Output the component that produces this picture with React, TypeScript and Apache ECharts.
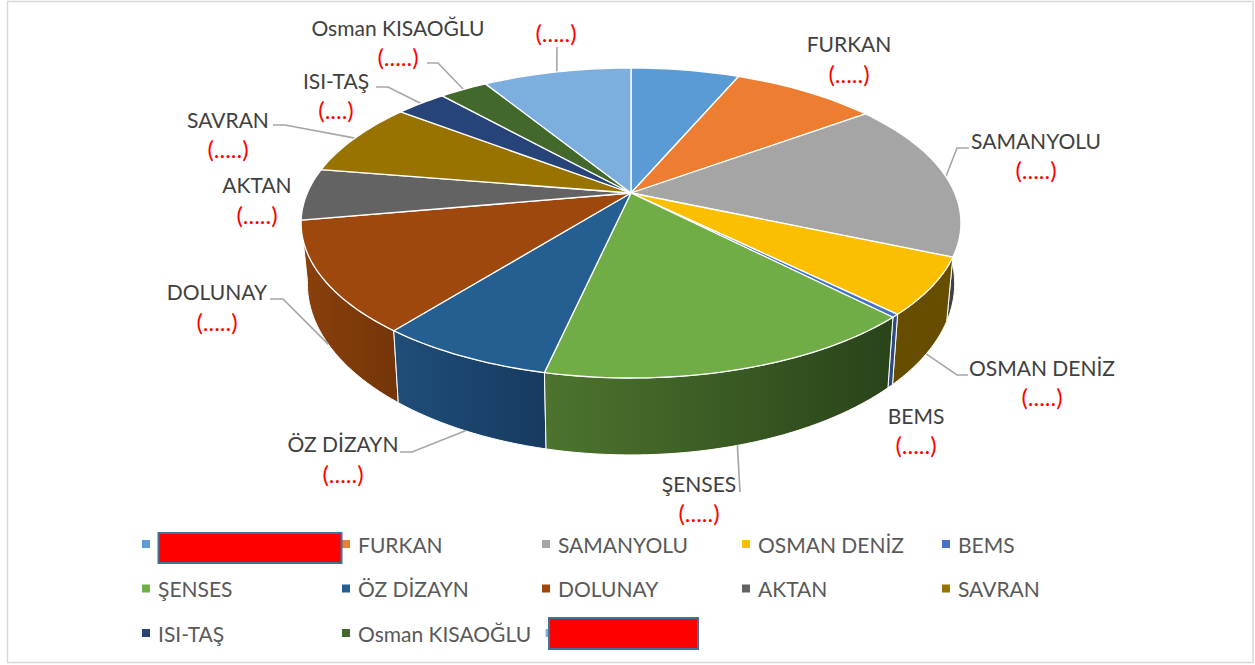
import React, { useEffect, useRef } from "react";
import * as echarts from "echarts";

const sliceNames = ["\u00a0", "FURKAN", "SAMANYOLU", "OSMAN DENİZ", "BEMS", "ŞENSES", "ÖZ DİZAYN", "DOLUNAY", "AKTAN", "SAVRAN", "ISI-TAŞ", "Osman KISAOĞLU", "\u00a0\u00a0"];
const sliceValues = [6.4, 8.55, 16.55, 5.9, 0.33, 15.75, 7.2, 11.5, 5.4, 7.8, 3.0, 2.85, 8.77];
const valueLabels = ["", "(.....)", "(.....)", "(.....)", "(.....)", "(.....)", "(.....)", "(.....)", "(.....)", "(.....)", "(....)", "(.....)", "(.....)"];

const faceColors = ["#5b9bd5", "#ed7d31", "#a5a5a5", "#fbbf00", "#4472c4", "#70ad47", "#255e91", "#9e480e", "#636363", "#997300", "#264478", "#43682b", "#7cafdd"];
const wallLeft = ["#37618a", "#8f4b1d", "#474747", "#664d00", "#2c4a80", "#4d742e", "#1f4e79", "#8a400c", "#3c3c3c", "#5c4500", "#172a4a", "#28401a", "#4b6a87"];
const wallRight = ["#37618a", "#8f4b1d", "#404040", "#664d00", "#2c4a80", "#29431a", "#173a60", "#743508", "#3c3c3c", "#5c4500", "#172a4a", "#28401a", "#4b6a87"];

// Perspective of the disc
const CX = 631, CY = 193, K = 149.2, P = 0.1935, R = 323.7;
const rad = (d: number) => (d * Math.PI) / 180;
const topDelta = (a: number) => {
  const u = Math.sin(rad(a)), v = -Math.cos(rad(a)), w = 1 - P * v;
  return [(R * u) / w, (K * v) / w];
};
const topPt = (a: number) => { const [dx, dy] = topDelta(a); return [CX + dx, CY + dy]; };
const botPt = (a: number) => { const [dx, dy] = topDelta(a); return [CX + 0.981 * dx, CY + dy + 57.5 + 0.105 * dy]; };

const total = sliceValues.reduce((s, v) => s + v, 0);
const starts: number[] = [];
sliceValues.reduce((acc, v, i) => { starts[i] = acc; return acc + v; }, 0);
const angleOf = (v: number) => (v / total) * 360;

// label layout: centre x, name y, value y, leader polyline start + elbow
type L = { x: number; ny: number; vy: number; lead?: number[][] };
const labelLayout: L[] = [
  { x: 0, ny: 0, vy: 0 },
  { x: 849, ny: 43, vy: 73 },
  { x: 1036, ny: 140, vy: 169, lead: [[969, 148], [957, 148]] },
  { x: 1042, ny: 367, vy: 396, lead: [[968, 375], [957, 375]] },
  { x: 916, ny: 415, vy: 444 },
  { x: 699, ny: 483, vy: 512, lead: [[740, 492]] },
  { x: 343, ny: 443, vy: 473, lead: [[400, 452], [412, 452]] },
  { x: 217, ny: 291, vy: 321, lead: [[270, 299], [283, 299]] },
  { x: 257, ny: 184, vy: 214 },
  { x: 228, ny: 119, vy: 148, lead: [[273, 125], [285, 125]] },
  { x: 336, ny: 80, vy: 109, lead: [[376, 87], [388, 87]] },
  { x: 398, ny: 27, vy: 56, lead: [[427, 63], [438, 63]] },
  { x: 556, ny: 0, vy: 32, lead: [[557, 47]] },
];
const FONT = "Lato, 'Open Sans', sans-serif";
const FS = 21;
const VFS = 24;

function renderSlice(i: number) {
  return () => {
    const a0 = angleOf(starts[i]);
    const a1 = angleOf(starts[i] + sliceValues[i]);
    const n = Math.max(2, Math.ceil((a1 - a0) / 1.5));
    const arc: number[] = [];
    for (let k = 0; k <= n; k++) arc.push(a0 + ((a1 - a0) * k) / n);
    const mid = (a0 + a1) / 2;
    const front = -Math.cos(rad(mid));
    const wallPts = [...arc.map(topPt), ...arc.slice().reverse().map(botPt)];
    const children: any[] = [
      {
        type: "polygon",
        z2: 100 + Math.round(front * 50),
        shape: { points: wallPts },
        style: {
          fill: new echarts.graphic.LinearGradient(0, 0, 1, 0, [
            { offset: 0, color: wallLeft[i] },
            { offset: 1, color: wallRight[i] },
          ]),
          stroke: "#fff",
          lineWidth: 1,
          lineJoin: "round",
        },
      },
      {
        type: "polygon",
        z2: 300,
        shape: { points: [[CX, CY], ...arc.map(topPt)] },
        style: { fill: faceColors[i], stroke: "#fff", lineWidth: 1.3, lineJoin: "round" },
      },
    ];
    const l = labelLayout[i];
    if (l.lead) {
      const isFront = front > 0.1;
      const end = isFront ? botPt(mid) : topPt(mid);
      children.push({
        type: "polyline",
        z2: 250,
        shape: { points: [...l.lead, end] },
        style: { stroke: "#a6a6a6", lineWidth: 1.6, fill: "none" },
      });
    }
    if (i > 0 && l.ny) {
      children.push({
        type: "text",
        z2: 400,
        style: { text: sliceNames[i], x: l.x, y: l.ny, align: "center", verticalAlign: "middle", fill: "#404040", font: `${FS}px ${FONT}` },
      });
    }
    if (valueLabels[i]) {
      children.push({
        type: "text",
        z2: 400,
        style: { text: valueLabels[i], x: l.x, y: l.vy, align: "center", verticalAlign: "middle", fill: "#ff0000", font: `${VFS}px ${FONT}` },
      });
    }
    return { type: "group", children };
  };
}

export default function App() {
  const ref = useRef<HTMLDivElement>(null);
  useEffect(() => {
    document.body.style.margin = "0";
    document.body.style.overflow = "hidden";
    const chart = echarts.init(ref.current!, undefined, { renderer: "svg" });
    chart.setOption({
      animation: false,
      backgroundColor: "#fff",
      legend: {
        left: 142,
        top: 529,
        padding: 0,
        width: 1010,
        icon: "rect",
        itemWidth: 8,
        itemHeight: 8,
        itemGap: 14.5,
        selectedMode: false,
        textStyle: {
          width: 169.5,
          height: 30,
          lineHeight: 30,
          padding: [0, 0, 0, 3],
          fontSize: FS,
          fontFamily: FONT,
          color: "#595959",
        },
      },
      series: sliceNames.map((name, i) => ({
        type: "custom",
        name,
        coordinateSystem: "none",
        silent: true,
        itemStyle: { color: faceColors[i] },
        data: [[sliceValues[i]]],
        renderItem: renderSlice(i),
      })),
      graphic: [
        { type: "rect", z: -1, shape: { x: 7.5, y: 1.5, width: 1245.5, height: 661 }, style: { fill: "#fff", stroke: "#d9d9d9", lineWidth: 1.5 } },
        { type: "rect", z: 100, shape: { x: 158.5, y: 533, width: 183, height: 30 }, style: { fill: "#ff0000", stroke: "#41719c", lineWidth: 2 } },
        { type: "rect", z: 100, shape: { x: 549, y: 618, width: 149, height: 31 }, style: { fill: "#ff0000", stroke: "#41719c", lineWidth: 2 } },
      ],
    });
    return () => chart.dispose();
  }, []);
  return <div ref={ref} style={{ position: "absolute", left: 0, top: 0, width: 1255, height: 665 }} />;
}
